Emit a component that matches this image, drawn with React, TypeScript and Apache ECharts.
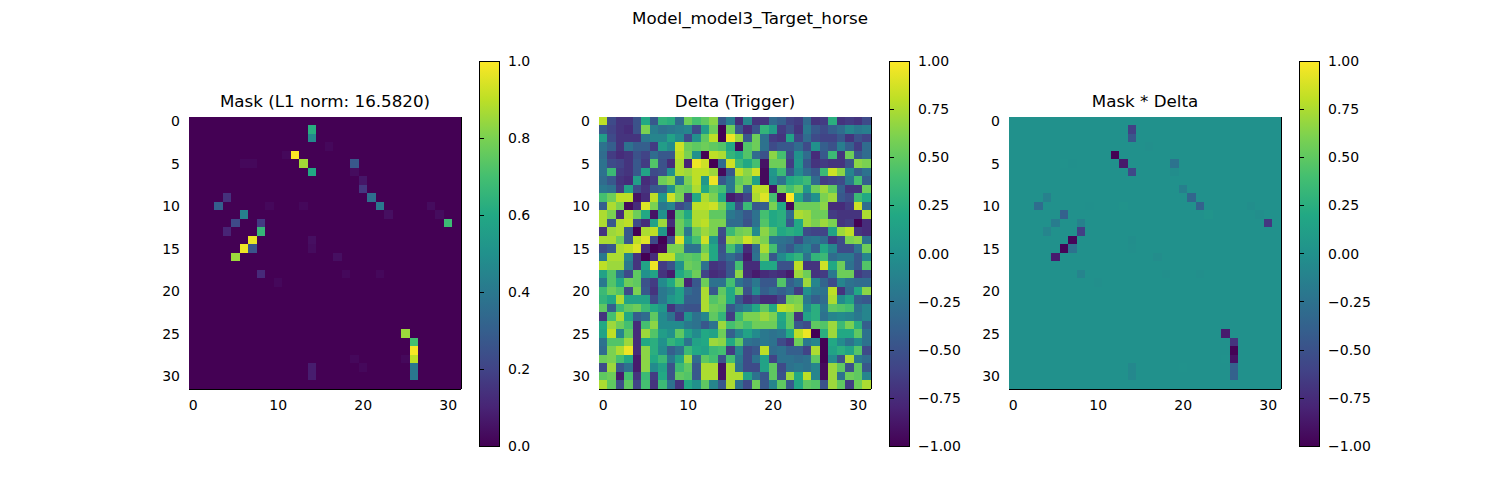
import React, { useEffect, useRef } from 'react';
import * as echarts from 'echarts';

const SIZE = 32;
const cellLabels = Array.from({ length: SIZE }, (_, i) => String(i));

// non-zero mask entries: [row, col, value]
const maskCells: [number, number, number][] = [
  [1, 14, 0.62], [2, 14, 0.47], [4, 12, 1.0], [5, 13, 0.86], [6, 14, 0.6],
  [5, 19, 0.27], [6, 19, 0.03], [7, 20, 0.06], [8, 20, 0.16], [9, 21, 0.36],
  [10, 22, 0.4], [11, 23, 0.04], [10, 28, 0.03], [11, 29, 0.03], [12, 30, 0.68],
  [9, 4, 0.14], [10, 3, 0.3], [11, 6, 0.43], [12, 5, 0.22], [12, 8, 0.17],
  [13, 4, 0.1], [13, 8, 0.66], [14, 7, 0.97], [15, 6, 0.98], [15, 7, 0.26],
  [16, 5, 0.85], [18, 8, 0.12], [25, 25, 0.85], [26, 26, 0.7], [27, 26, 0.99],
  [28, 26, 0.9], [29, 26, 0.4], [30, 26, 0.4], [29, 14, 0.08], [30, 14, 0.08],
  [4, 11, 0.02], [3, 16, 0.02], [5, 6, 0.02], [5, 7, 0.02], [10, 9, 0.02],
  [10, 13, 0.02], [14, 14, 0.04], [15, 14, 0.03], [16, 17, 0.04], [18, 18, 0.02],
  [18, 22, 0.02], [19, 10, 0.02], [28, 19, 0.02], [28, 25, 0.02], [29, 20, 0.02],
];

// trigger pattern, one row per line (32 x 32)
const delta: number[][] = [
  [0.8, -0.55, -0.7, -0.7, -0.5, 0.2, -0.45, 0.3, 0.25, -0.3, 0.55, 0.4, 0.5, 0.65, -0.45, -0.15, -0.75, -0.1, -0.7, -0.7, -0.3, -0.4, -0.6, -0.65, -0.3, -0.7, -0.65, 0.25, -0.7, -0.65, -0.7, -0.55],
  [-0.45, -0.6, -0.7, -0.75, -0.5, 0.6, -0.15, -0.25, -0.2, -0.15, -0.1, -0.55, 0.1, 0.55, -1.0, 0.55, -0.45, -0.75, -0.5, 0.3, 0.1, -0.65, -0.5, -0.7, -0.2, -0.45, -0.55, -0.4, -0.3, -0.1, -0.2, -0.15],
  [0.1, -0.55, -0.7, -0.7, -0.7, -0.2, -0.1, -0.1, 0.15, -0.05, -0.55, 0.0, 0.5, 0.8, -1.0, 0.95, 0.7, -0.45, 0.55, -0.25, -0.65, -0.7, 0.15, -0.6, -0.3, -0.55, -0.6, -0.6, -0.45, -0.7, -0.5, -0.6],
  [-0.25, -0.4, -0.7, -0.25, -0.4, -0.4, -0.65, 0.1, -0.05, 0.85, 0.55, 0.5, 0.55, 0.5, 0.45, 0.2, -0.95, 0.45, 0.55, -0.25, -0.55, -0.45, -0.45, -0.3, -0.55, 0.0, -0.4, -0.5, -0.15, -0.4, -0.65, -0.3],
  [-0.3, -0.65, -0.75, -0.7, -0.5, -0.6, -0.3, -0.45, -0.45, 0.8, 0.6, 0.0, -1.0, 0.8, 0.75, 0.3, 0.2, 0.45, -0.3, -0.5, 0.65, 0.4, -0.55, 0.0, -0.3, -0.75, -0.45, 0.35, -0.7, 0.55, -0.45, -0.3],
  [-0.25, -0.55, -0.6, -0.7, -0.45, -0.65, 0.45, -0.5, -0.75, 0.75, -0.8, 0.95, 0.85, -1.0, -0.3, 0.85, 0.35, 0.2, 0.4, -0.9, 0.55, 0.55, -0.65, 0.05, -0.45, -0.7, -0.65, -0.7, -0.7, -0.5, 0.65, 0.6],
  [-0.25, 0.35, -0.65, -0.7, -0.45, 0.15, -0.55, -0.5, 0.0, 0.75, 0.7, 0.8, 0.8, 0.7, -0.95, -0.45, 0.8, 0.65, 0.85, -0.95, 0.05, 0.35, -0.45, -0.05, -0.3, -0.45, 0.35, 0.85, 0.65, -0.1, -0.4, -0.25],
  [-0.3, -0.45, -0.7, -0.75, 0.1, -0.75, -0.65, 0.55, 0.65, -0.2, 0.6, 0.8, 0.05, 0.95, -0.45, -0.2, 0.5, 0.6, 0.15, -0.95, 0.0, -0.25, 0.2, 0.25, 0.35, -0.3, -0.65, -0.6, -0.55, -0.2, 0.4, -0.4],
  [-0.2, -0.25, -0.65, 0.15, -0.55, -0.7, -0.45, -0.4, 0.0, 0.55, 0.5, 0.75, 0.2, 0.5, 0.4, -0.2, 0.6, -0.3, 0.8, 0.8, -0.9, 0.55, 0.4, 0.55, 0.05, 0.55, 0.7, 0.5, -0.4, -0.7, -0.7, 0.55],
  [0.4, 0.55, 0.8, 0.8, -0.9, -0.75, 0.8, 0.05, 0.85, 0.6, -0.7, 0.2, 0.75, 0.6, 0.2, -0.85, -0.75, -0.6, 0.75, 0.9, 0.4, -0.95, 1.0, 0.2, -0.25, 0.0, 0.6, 0.7, -0.45, -0.55, 0.35, 0.2],
  [-0.4, 0.75, 0.6, -0.95, -0.75, 0.9, 0.6, -0.2, -0.1, -0.55, -0.4, 0.8, 0.8, 0.85, 0.6, 0.15, -0.55, 0.35, -0.45, -0.4, 0.6, 0.2, -0.95, 0.55, 0.55, 0.55, 0.65, -0.75, -0.75, -0.65, 0.85, -0.3],
  [0.75, 0.6, -0.75, 0.75, 0.55, 0.2, -0.9, 0.0, -0.9, 0.45, 0.2, 0.75, 0.75, 0.5, 0.5, -0.2, -0.3, -0.45, -0.25, 0.4, 0.2, 0.25, -0.3, 0.75, 0.7, 0.55, 0.55, -0.65, -0.7, -0.7, -0.7, 0.75],
  [0.75, -0.45, 0.75, 0.8, -0.55, -0.75, 0.15, 0.7, -0.75, 0.55, 0.35, 0.75, 0.8, 0.6, 0.6, -0.3, -0.3, -0.5, -0.25, 0.45, 0.2, 0.25, -0.45, 0.2, 0.7, 0.6, 0.7, 0.6, -0.7, -0.65, -1.0, -0.75],
  [-0.7, 0.7, 0.75, -0.45, -1.0, 0.75, 0.8, 0.05, -0.95, 0.55, -0.2, 0.55, 0.7, 0.6, -0.55, 0.35, 0.55, 0.6, -0.05, 0.65, 0.45, 0.2, 0.25, 0.2, -0.55, -0.6, -0.6, 0.15, 0.7, 0.8, -0.7, -0.75],
  [0.75, 0.75, 0.55, -0.45, 0.8, 0.9, -0.55, -1.0, -0.55, 0.9, 0.1, 0.4, 0.85, 0.05, -0.6, 0.7, 0.65, 0.85, 0.7, 0.6, -0.2, -0.25, -0.3, -0.55, -0.25, -0.2, -0.3, -0.7, -0.55, 0.6, 0.65, -0.25],
  [-0.55, -0.45, 0.75, 0.8, 0.9, -0.75, -1.0, -0.95, 0.6, 0.6, -0.25, -0.25, 0.55, 0.2, -0.5, 0.4, -0.1, -0.75, -0.3, 0.75, 0.4, -0.3, -0.45, -0.2, -0.1, -0.4, 0.2, -0.1, -0.55, -0.55, -0.25, 0.55],
  [-0.2, 0.75, 0.75, -0.1, -0.7, -1.0, -0.75, 0.8, 0.8, 0.45, 0.5, 0.45, 0.7, 0.2, -0.45, -0.3, -0.45, -0.85, -0.25, 0.55, -0.45, -0.05, 0.2, 0.3, -0.25, 0.3, 0.35, -0.3, -0.2, -0.2, -0.45, -0.1],
  [0.8, 0.7, 0.7, -0.2, -0.7, 0.15, 0.95, -0.65, -0.5, 0.0, 0.55, 0.5, -0.25, -0.7, -0.65, -0.45, 0.4, -0.75, -0.75, 0.2, 0.2, -0.5, -0.5, 0.8, -0.7, -0.7, 0.85, 0.2, 0.55, -0.25, -0.45, 0.45],
  [0.15, 0.45, -0.2, -0.55, 0.5, 0.0, 0.15, -0.7, -0.85, 0.2, 0.35, 0.55, -0.6, -0.75, -0.7, -0.45, 0.65, -0.75, -0.85, -0.75, -0.7, -0.75, -0.85, 0.7, 0.55, -0.7, -0.65, -0.2, 0.55, 0.55, -0.65, -0.55],
  [-0.2, 0.45, 0.2, 0.55, 0.5, -0.5, -0.65, -0.05, 0.2, 0.55, -0.8, -0.45, 0.55, -0.25, -0.25, 0.4, -0.25, -0.4, -0.2, -0.45, -0.45, 0.45, -0.4, -0.25, 0.7, -0.1, -0.35, -0.55, -0.1, -0.25, -0.3, -0.3],
  [0.35, 0.55, 0.45, -0.55, 0.6, -0.45, -0.7, -0.2, -0.1, 0.15, -0.3, -0.4, 0.75, -0.45, 0.5, 0.2, 0.55, -0.5, -0.05, -0.4, -0.3, -0.4, -0.3, -0.65, 0.0, -0.2, -0.25, 0.8, -0.7, -0.3, 0.2, 0.65],
  [0.3, 0.2, 0.75, 0.15, 0.15, 0.15, -0.55, -0.2, 0.05, 0.15, -0.4, -0.4, 0.75, 0.45, 0.55, 0.2, -0.45, -0.7, -0.6, -0.75, -0.75, -0.6, 0.55, 0.6, -0.2, -0.4, -0.3, 0.75, -0.05, 0.15, -0.4, -0.45],
  [0.5, -0.4, 0.35, 0.5, 0.55, 0.35, 0.2, 0.05, -0.7, -0.45, -0.5, -0.5, 0.75, 0.55, 0.5, -0.45, -0.25, -0.1, 0.2, 0.5, 0.2, 0.8, 0.75, 0.65, -0.05, 0.25, -0.2, 0.5, 0.45, 0.4, -0.25, -0.1],
  [-0.7, 0.4, 0.75, 0.2, -0.4, -0.3, 0.5, -0.05, -0.25, -0.65, 0.0, -0.25, -0.1, 0.5, 0.3, -0.65, 0.35, 0.6, 0.6, 0.7, 0.6, 0.2, 0.5, -0.7, 0.15, 0.25, -0.25, -0.1, -0.05, -0.1, -0.2, -0.1],
  [0.2, 0.7, 0.55, 0.4, -0.75, 0.4, 0.65, -0.05, -0.05, -0.05, -0.2, -0.25, -0.45, -0.25, 0.7, 0.4, 0.5, 0.4, 0.55, 0.55, 0.55, 0.15, 0.5, -0.45, -0.55, 0.5, 0.45, 0.7, 0.35, 0.6, 0.25, -0.4],
  [0.15, 0.8, -0.1, 0.5, -0.75, 0.7, 0.45, 0.1, 0.0, 0.5, 0.15, -0.05, 0.2, 0.15, 0.55, -0.4, -0.1, 0.15, -0.05, -0.2, -0.25, -0.2, 0.2, 0.8, 0.95, -1.0, 0.25, 0.7, 0.2, 0.2, 0.5, -0.25],
  [-0.25, 0.45, 0.45, 0.7, -0.75, 0.2, 0.25, 0.0, 0.3, 0.2, -0.25, 0.15, 0.2, 0.7, 0.65, 0.2, 0.5, -0.25, -0.3, -0.2, -0.25, -0.55, -0.7, 0.55, -0.2, -0.1, -1.0, 0.2, -0.05, -0.25, -0.05, -0.25],
  [-0.3, 0.6, 0.75, 0.95, -0.75, 0.65, 0.25, -0.05, -0.4, -0.25, 0.35, 0.2, 0.15, 0.35, 0.4, -0.65, -0.1, -0.55, -0.45, 0.8, -0.3, -0.25, -0.4, -0.4, -0.6, 0.75, -1.0, 0.15, 0.25, 0.15, 0.45, -0.55],
  [0.55, 0.6, 0.4, 0.2, -0.85, 0.65, 0.2, 0.35, -0.2, 0.15, 0.7, -0.3, 0.5, 0.4, -0.5, 0.4, -0.2, -0.55, -0.25, 0.15, -0.6, -0.25, -0.25, -0.3, -0.25, 0.5, -1.0, -0.05, -0.5, 0.75, -0.2, -0.3],
  [-0.55, 0.7, -0.45, -0.25, -0.85, 0.65, -0.05, 0.15, -0.5, 0.35, 0.5, -0.45, 0.75, 0.75, -0.9, 0.75, -0.25, -0.55, -0.55, 0.15, 0.5, -0.55, -0.25, -0.2, -0.25, -0.1, -0.95, 0.7, 0.5, -0.5, 0.5, -0.45],
  [0.5, 0.55, -0.85, 0.4, -0.7, 0.35, -0.65, 0.2, -0.5, 0.5, 0.45, -0.45, 0.75, 0.75, -0.9, 0.75, 0.75, 0.15, -0.25, -0.45, 0.5, -0.5, 0.7, 0.2, 0.8, -0.1, -0.95, 0.7, -0.25, 0.55, 0.5, -0.1],
  [0.75, 0.5, -0.55, 0.5, -0.6, 0.4, -0.7, 0.35, -0.25, -0.7, 0.2, 0.0, 0.5, -0.1, -0.45, 0.75, -0.25, -0.55, 0.55, -0.45, -0.1, 0.5, -0.45, 0.2, 0.5, 0.45, -0.5, 0.7, 0.5, -0.65, 0.55, 0.75],
];

const maskTicks = [0, 0.2, 0.4, 0.6, 0.8, 1.0];
const deltaTicks = [-1, -0.75, -0.5, -0.25, 0, 0.25, 0.5, 0.75, 1];

const VIRIDIS = [
  '#440154', '#482475', '#414487', '#355f8d', '#2a788e', '#21918c',
  '#22a884', '#44bf70', '#7ad151', '#bddf26', '#fde725',
];

const FONT = 'DejaVu Sans';
const BLACK = '#000';

const buildMask = () => {
  const grid = delta.map((row) => row.map(() => 0));
  maskCells.forEach(([r, c, v]) => { grid[r][c] = v; });
  return grid;
};

const toCells = (grid: number[][]) => {
  const out: [number, number, number][] = [];
  grid.forEach((row, r) => row.forEach((v, c) => out.push([c, r, v])));
  return out;
};

const fmtTick = (digits: number) => (v: number) => {
  const s = Math.abs(v).toFixed(digits);
  return v < -1e-9 ? '\u2212' + s : s;
};

// panel geometry (pixels)
const PANEL_LEFT = [189, 599, 1009];
const PANEL_TOP = 117;
const PANEL_SIZE = 272;
const BAR_OFFSET = 290;
const BAR_TOP = 61;
const BAR_W = 20;
const BAR_H = 385;

const App = () => {
  const chartRef = useRef<HTMLDivElement>(null);

  useEffect(() => {
    if (!chartRef.current) return;
    const chart = echarts.init(chartRef.current, null, { renderer: 'svg' });

    const mask = buildMask();
    const maskDelta = mask.map((row, r) => row.map((m, c) => m * delta[r][c]));
    const panels = [mask, delta, maskDelta];
    const ranges: [number, number][] = [[0, 1], [-1, 1], [-1, 1]];
    const titles = ['Mask (L1 norm: 16.5820)', 'Delta (Trigger)', 'Mask * Delta'];

    const grids: any[] = [];
    const xAxes: any[] = [];
    const yAxes: any[] = [];
    const series: any[] = [];
    const visualMaps: any[] = [];

    const every = (n: number) => (i: number) => i % n === 0;
    const labelStyle = { color: BLACK, fontSize: 14, fontFamily: FONT };

    panels.forEach((grid, p) => {
      grids.push({ left: PANEL_LEFT[p], top: PANEL_TOP, width: PANEL_SIZE, height: PANEL_SIZE });
      xAxes.push({
        type: 'category', gridIndex: p, data: cellLabels, position: 'bottom',
        axisLine: { lineStyle: { color: BLACK, width: 1 } },
        axisTick: { alignWithLabel: true, length: 5, interval: every(10), lineStyle: { color: BLACK, width: 1 } },
        axisLabel: { ...labelStyle, interval: every(10), margin: 9 },
        splitLine: { show: false },
      });
      xAxes.push({
        type: 'category', gridIndex: p, data: cellLabels, position: 'top',
        axisLine: { lineStyle: { color: BLACK, width: 1 } },
        axisTick: { show: false }, axisLabel: { show: false }, splitLine: { show: false },
      });
      yAxes.push({
        type: 'category', gridIndex: p, data: cellLabels, position: 'left', inverse: true,
        axisLine: { lineStyle: { color: BLACK, width: 1 } },
        axisTick: { alignWithLabel: true, length: 5, interval: every(5), lineStyle: { color: BLACK, width: 1 } },
        axisLabel: { ...labelStyle, interval: every(5), margin: 9 },
        splitLine: { show: false },
      });
      yAxes.push({
        type: 'category', gridIndex: p, data: cellLabels, position: 'right', inverse: true,
        axisLine: { lineStyle: { color: BLACK, width: 1 } },
        axisTick: { show: false }, axisLabel: { show: false }, splitLine: { show: false },
      });
      series.push({
        type: 'heatmap', xAxisIndex: p * 2, yAxisIndex: p * 2, data: toCells(grid),
        progressive: 0, itemStyle: { borderWidth: 0 }, emphasis: { disabled: true },
      });
      visualMaps.push({
        type: 'continuous', show: false, seriesIndex: p, min: ranges[p][0], max: ranges[p][1],
        inRange: { color: VIRIDIS },
      });
    });

    // colour bars
    panels.forEach((_, p) => {
      const gi = 3 + p;
      const ticks = p === 0 ? maskTicks : deltaTicks;
      grids.push({
        left: PANEL_LEFT[p] + BAR_OFFSET, top: BAR_TOP, width: BAR_W, height: BAR_H,
        show: true, borderColor: BLACK, borderWidth: 1,
        backgroundColor: new echarts.graphic.LinearGradient(0, 1, 0, 0,
          VIRIDIS.map((color, i) => ({ offset: i / (VIRIDIS.length - 1), color }))),
      });
      xAxes.push({ type: 'value', gridIndex: gi, show: false, min: 0, max: 1 });
      yAxes.push({
        type: 'value', gridIndex: gi, position: 'right',
        min: ticks[0], max: ticks[ticks.length - 1], interval: ticks[1] - ticks[0],
        axisLine: { show: false },
        axisTick: { show: true, length: 5, lineStyle: { color: BLACK, width: 1 } },
        axisLabel: { ...labelStyle, margin: 9, formatter: fmtTick(p === 0 ? 1 : 2) },
        splitLine: { show: false },
      });
    });

    const textEl = (text: string, x: number, y: number) => ({
      type: 'text', x, y, silent: true,
      style: {
        text, fill: BLACK, font: `16.7px "${FONT}"`,
        textAlign: 'center', align: 'center', textVerticalAlign: 'middle', verticalAlign: 'middle',
      },
    });

    chart.setOption({
      animation: false,
      backgroundColor: '#fff',
      grid: grids,
      xAxis: xAxes,
      yAxis: yAxes,
      visualMap: visualMaps,
      series,
      graphic: [
        textEl('Model_model3_Target_horse', 750, 18),
        ...titles.map((t, p) => textEl(t, PANEL_LEFT[p] + PANEL_SIZE / 2, 101)),
      ],
    });

    return () => {
      chart.dispose();
    };
  }, []);

  return (
    <div
      ref={chartRef}
      style={{
        position: 'absolute', left: 0, top: 0, width: 1500, height: 500,
        shapeRendering: 'crispEdges',
      }}
    />
  );
};

export default App;
